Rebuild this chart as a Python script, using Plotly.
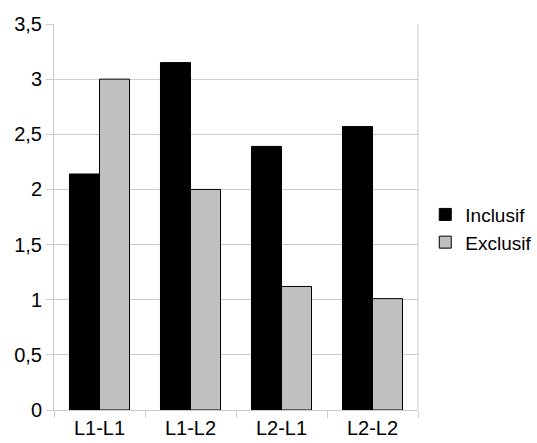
import plotly.graph_objects as go

# Daten
categories = ["L1-L1", "L1-L2", "L2-L1", "L2-L2"]
inclusif = [2.14, 3.15, 2.39, 2.57]
exclusif = [3.0, 2.0, 1.12, 1.01]
y_ticks = [0, 0.5, 1, 1.5, 2, 2.5, 3, 3.5]
y_labels = ["0", "0,5", "1", "1,5", "2", "2,5", "3", "3,5"]

fig = go.Figure()
fig.add_trace(go.Bar(x=categories, y=inclusif, name="Inclusif",
                     marker=dict(color="black", line=dict(color="black", width=1))))
fig.add_trace(go.Bar(x=categories, y=exclusif, name="Exclusif",
                     marker=dict(color="#c0c0c0", line=dict(color="black", width=1))))

fig.update_layout(
    width=537, height=443,
    barmode="group", bargap=0.34, bargroupgap=0,
    plot_bgcolor="white", paper_bgcolor="white",
    margin=dict(l=54, r=119, t=24, b=33, autoexpand=False),
    font=dict(family="Liberation Sans, Arial, sans-serif", size=19, color="black"),
    legend=dict(x=1.02, y=0.47, xanchor="left", yanchor="middle",
                font=dict(size=19), itemwidth=30),
    showlegend=True,
)
fig.update_yaxes(range=[0, 3.5], tickvals=y_ticks, ticktext=y_labels,
                 showgrid=True, gridcolor="#cccccc", gridwidth=1,
                 showline=True, linecolor="#cccccc", linewidth=1,
                 ticks="outside", ticklen=7, tickcolor="#cccccc",
                 zeroline=False, tickfont=dict(size=20), automargin=False)
fig.update_xaxes(showline=True, linecolor="#cccccc", linewidth=1, mirror=False,
                 ticks="outside", ticklen=7, tickcolor="#cccccc", tickson="boundaries",
                 tickfont=dict(size=20), automargin=False)
# rechter Rand des Plotbereichs
fig.add_shape(type="line", xref="paper", yref="paper", x0=1, x1=1, y0=0, y1=1,
              line=dict(color="#cccccc", width=1))

# Body-Rand entfernen, damit die Grafik bei (0,0) beginnt
fig.write_html("out.html", config={"displayModeBar": False},
               post_script="document.body.style.margin='0';")
